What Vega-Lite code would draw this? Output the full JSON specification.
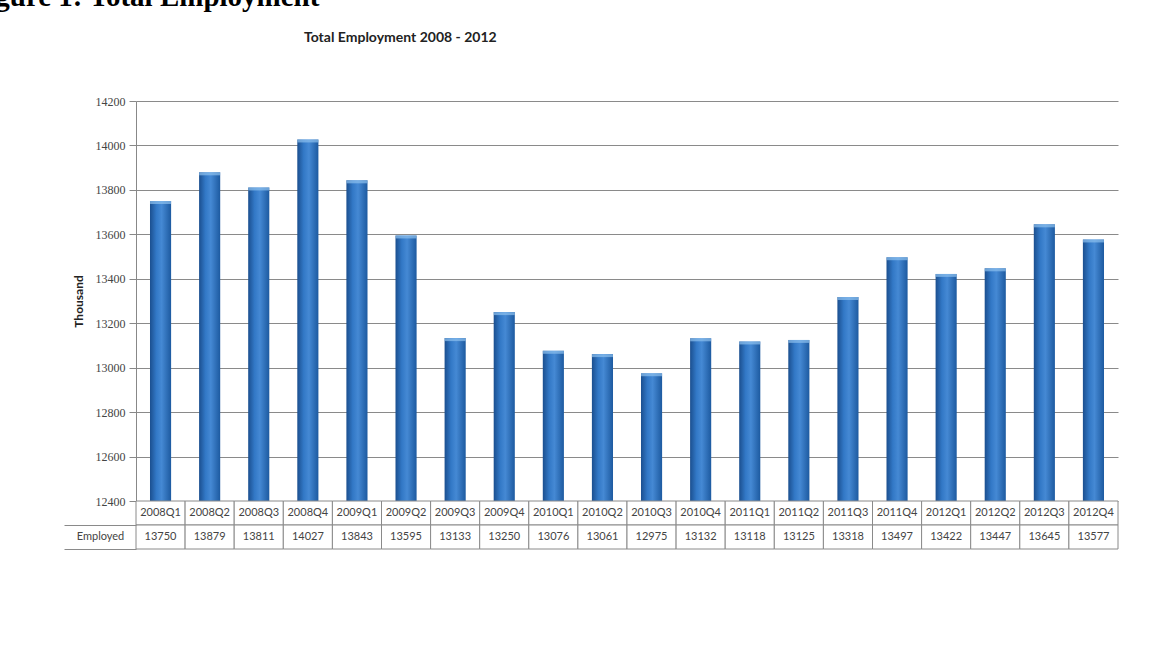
{
  "$schema": "https://vega.github.io/schema/vega-lite/v6.json",
  "background": "white",
  "padding": {"left": -31, "top": -17, "right": 10, "bottom": 10},
  "config": {"view": {"stroke": null}},
  "title": {
    "text": "Figure 1: Total Employment",
    "anchor": "start",
    "frame": "bounds",
    "font": "Liberation Serif",
    "fontSize": 29,
    "fontWeight": "bold",
    "color": "#000000",
    "dx": -94,
    "offset": 19
  },
  "data": {
    "values": [
      {"quarter": "2008Q1", "employed": 13750},
      {"quarter": "2008Q2", "employed": 13879},
      {"quarter": "2008Q3", "employed": 13811},
      {"quarter": "2008Q4", "employed": 14027},
      {"quarter": "2009Q1", "employed": 13843},
      {"quarter": "2009Q2", "employed": 13595},
      {"quarter": "2009Q3", "employed": 13133},
      {"quarter": "2009Q4", "employed": 13250},
      {"quarter": "2010Q1", "employed": 13076},
      {"quarter": "2010Q2", "employed": 13061},
      {"quarter": "2010Q3", "employed": 12975},
      {"quarter": "2010Q4", "employed": 13132},
      {"quarter": "2011Q1", "employed": 13118},
      {"quarter": "2011Q2", "employed": 13125},
      {"quarter": "2011Q3", "employed": 13318},
      {"quarter": "2011Q4", "employed": 13497},
      {"quarter": "2012Q1", "employed": 13422},
      {"quarter": "2012Q2", "employed": 13447},
      {"quarter": "2012Q3", "employed": 13645},
      {"quarter": "2012Q4", "employed": 13577}
    ]
  },
  "spacing": 0,
  "bounds": "flush",
  "vconcat": [
    {
      "width": 982,
      "height": 400,
      "title": {
        "text": "Total Employment 2008 - 2012",
        "anchor": "start",
        "frame": "group",
        "dx": 168,
        "font": "Lato",
        "fontSize": 14,
        "fontWeight": "bold",
        "color": "#222222",
        "offset": 50
      },
      "layer": [
        {
          "mark": {
            "type": "bar",
            "width": {"band": 0.43},
            "color": {
              "gradient": "linear",
              "x1": 0, "y1": 0, "x2": 1, "y2": 0,
              "stops": [
                {"offset": 0, "color": "#1b4f8f"},
                {"offset": 0.3, "color": "#3278c6"},
                {"offset": 0.55, "color": "#4589d4"},
                {"offset": 1, "color": "#1d5aa0"}
              ]
            }
          },
          "encoding": {
            "x": {
              "field": "quarter",
              "type": "ordinal",
              "sort": null,
              "scale": {"paddingInner": 0, "paddingOuter": 0},
              "axis": null
            },
            "y": {
              "field": "employed",
              "type": "quantitative",
              "scale": {"domain": [12400, 14200], "zero": false, "nice": false},
              "axis": {
                "values": [12400, 12600, 12800, 13000, 13200, 13400, 13600, 13800, 14000, 14200],
                "format": "d",
                "title": "Thousand",
                "titleFont": "Lato",
                "titleFontSize": 12,
                "titleFontWeight": "bold",
                "titleColor": "#222222",
                "titlePadding": 10,
                "labelFont": "Liberation Serif",
                "labelFontSize": 12,
                "labelColor": "#444444",
                "labelPadding": 4,
                "tickSize": 7,
                "tickColor": "#888888",
                "domainColor": "#888888",
                "grid": true,
                "gridColor": "#8a8a8a",
                "gridOpacity": 1
              }
            },
            "y2": {"datum": 12400}
          }
        },
        {
          "mark": {"type": "tick", "color": "#8dc0ee", "thickness": 3, "size": 21, "yOffset": 1.5},
          "encoding": {
            "x": {"field": "quarter", "type": "ordinal", "sort": null},
            "y": {"field": "employed", "type": "quantitative"}
          }
        }
      ]
    },
    {
      "width": 982,
      "height": 48,
      "layer": [
        {
          "mark": {"type": "rect", "fill": "white", "stroke": "#8a8a8a", "strokeWidth": 1},
          "encoding": {
            "x": {
              "field": "quarter",
              "type": "ordinal",
              "sort": null,
              "scale": {"paddingInner": 0, "paddingOuter": 0},
              "axis": null
            },
            "y": {
              "datum": "q",
              "type": "nominal",
              "scale": {"domain": ["q", "e"], "paddingInner": 0, "paddingOuter": 0},
              "axis": {
                "title": null,
                "labelExpr": "datum.value == 'e' ? 'Employed' : ''",
                "labelFont": "Lato",
                "labelFontSize": 11,
                "labelColor": "#444444",
                "labelAlign": "center",
                "labelPadding": -36,
                "bandPosition": 1,
                "tickSize": 72,
                "tickColor": "#8a8a8a",
                "domain": false,
                "grid": false
              }
            }
          }
        },
        {
          "mark": {"type": "rect", "fill": "white", "stroke": "#8a8a8a", "strokeWidth": 1},
          "encoding": {
            "x": {"field": "quarter", "type": "ordinal", "sort": null},
            "y": {"datum": "e", "type": "nominal"}
          }
        },
        {
          "mark": {"type": "text", "font": "Lato", "fontSize": 11, "color": "#444444"},
          "encoding": {
            "x": {"field": "quarter", "type": "ordinal", "sort": null},
            "y": {"datum": "q", "type": "nominal"},
            "text": {"field": "quarter", "type": "nominal"}
          }
        },
        {
          "mark": {"type": "text", "font": "Lato", "fontSize": 11, "color": "#444444"},
          "encoding": {
            "x": {"field": "quarter", "type": "ordinal", "sort": null},
            "y": {"datum": "e", "type": "nominal"},
            "text": {"field": "employed", "type": "quantitative", "format": "d"}
          }
        }
      ]
    }
  ]
}
